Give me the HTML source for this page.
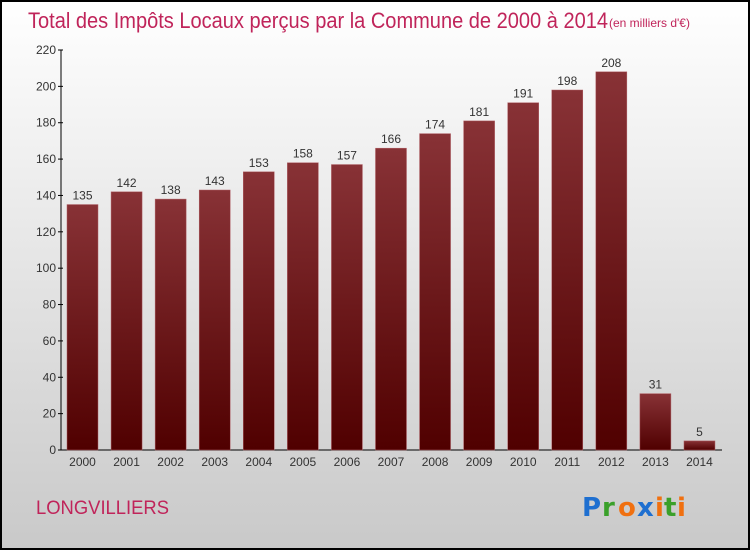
<!DOCTYPE html>
<html><head><meta charset="utf-8"><style>
body{margin:0;}
#wrap{width:750px;height:550px;position:relative;overflow:hidden;}
svg{display:block;font-family:"Liberation Sans",sans-serif;}
</style></head><body>
<div id="wrap">
<svg id="chart" width="750" height="550">
<defs>
<linearGradient id="bg" x1="0" y1="0" x2="0" y2="1"><stop offset="0" stop-color="#ffffff"/><stop offset="1" stop-color="#c9c9c9"/></linearGradient>
<linearGradient id="bar" x1="0" y1="0" x2="0" y2="1"><stop offset="0" stop-color="#883236"/><stop offset="1" stop-color="#500000"/></linearGradient>
</defs>
<rect x="1" y="1" width="748" height="548" fill="url(#bg)" stroke="#000" stroke-width="2"/>
<text x="28" y="28" font-size="22" fill="#c0245a" textLength="580" lengthAdjust="spacingAndGlyphs">Total des Impôts Locaux perçus par la Commune de 2000 à 2014</text>
<text x="609" y="27" font-size="12" fill="#c0245a">(en milliers d'€)</text>
<g id="yaxis"></g><g id="bars"></g>
<text x="36" y="514" font-size="19" fill="#c0245a" textLength="133" lengthAdjust="spacingAndGlyphs">LONGVILLIERS</text>
<g font-size="26" font-weight="bold" font-family="'DejaVu Sans',sans-serif">
<text x="582" y="516" fill="#1e6fd0">P</text><text x="602" y="516" fill="#3aa02a">r</text><text x="618" y="516" fill="#f07010">o</text><text x="637" y="516" fill="#1e6fd0">x</text><text x="655" y="516" fill="#f07010">i</text><text x="664" y="516" fill="#3aa02a">t</text><text x="677" y="516" fill="#f07010">i</text>
</g>
</svg></div>
<script>
const years=["2000","2001","2002","2003","2004","2005","2006","2007","2008","2009","2010","2011","2012","2013","2014"];
const values=[135,142,138,143,153,158,157,166,174,181,191,198,208,31,5];
const yTicks=[0,20,40,60,80,100,120,140,160,180,200,220];
const NS="http://www.w3.org/2000/svg";
const y0=450,yTop=50,yMax=220,xL=61,xR=722;
const y=v=>y0-(v/yMax)*(y0-yTop);
const x=i=>67+i*44.07;
function mk(t,a,p,txt){const e=document.createElementNS(NS,t);for(const k in a)e.setAttribute(k,a[k]);if(txt!==undefined)e.textContent=txt;p.appendChild(e);return e;}
const ya=document.getElementById('yaxis'),bg=document.getElementById('bars');
let l=mk('line',{x1:xL,y1:yTop,x2:xL,y2:y0,stroke:'#000','stroke-width':1},ya);


l=mk('line',{x1:xL,y1:y0,x2:xR,y2:y0,stroke:'#000','stroke-width':1},ya);


yTicks.forEach(v=>{
 mk('line',{x1:xL-3,y1:y(v),x2:xL+2,y2:y(v),stroke:'#000'},ya);
 const t=mk('text',{x:xL-5,y:y(v)+4,'font-size':12,fill:'#333','text-anchor':'end'},ya,v);
 
 
});
values.forEach((v,i)=>{
 const r=mk('rect',{x:x(i),y:y(v),width:31,height:y0-y(v),fill:'url(#bar)',stroke:'#b06066','stroke-width':0.5},bg);
 
 
 const t=mk('text',{x:x(i)+15.5,y:y(v)-5,'font-size':12,fill:'#333','text-anchor':'middle'},bg,v);
 
 
 const c=mk('text',{x:x(i)+15.5,y:466,'font-size':12,fill:'#333','text-anchor':'middle'},bg,years[i]);
 
 
});
</script>
</body></html>
